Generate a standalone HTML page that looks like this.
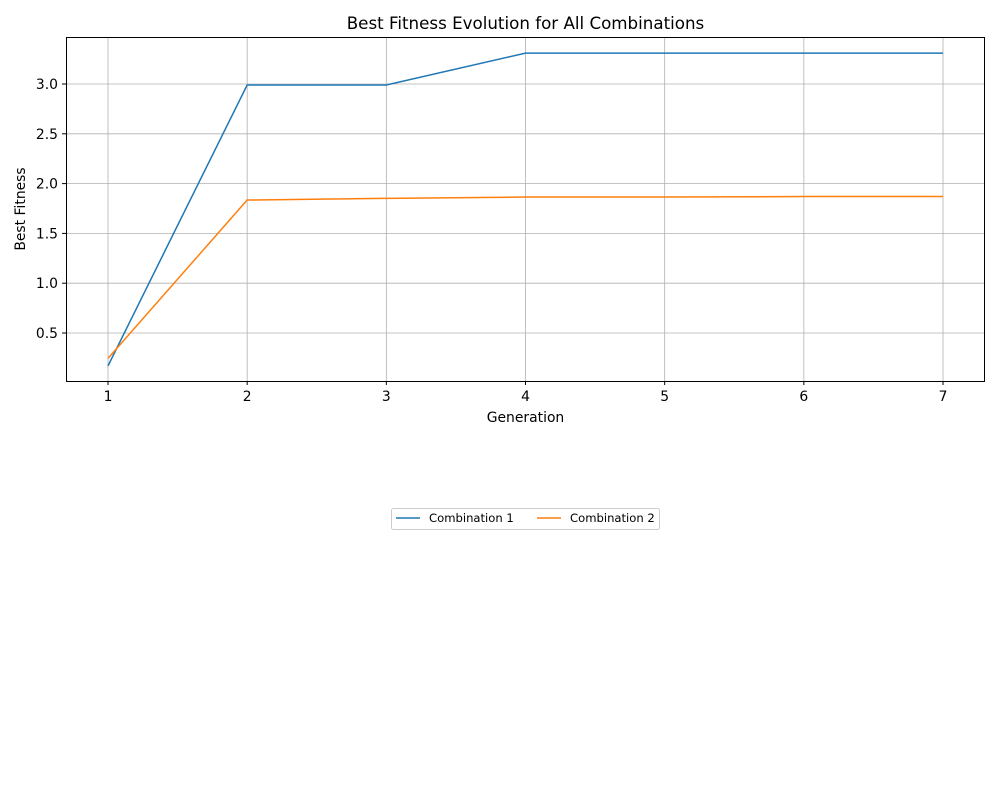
<!DOCTYPE html>
<html><head><meta charset="utf-8"><style>
body{margin:0;background:#fff;}
svg{display:block;font-family:"DejaVu Sans","Liberation Sans",sans-serif;}
</style></head><body>
<svg id="chart" width="1000" height="800">
<rect width="1000" height="800" fill="#fff"/>
<text x="525.5" y="29" font-size="16.7" text-anchor="middle">Best Fitness Evolution for All Combinations</text>
<g id="grid"></g>
<g id="series"></g>
<rect x="66.5" y="37.5" width="918" height="344" fill="none" stroke="#000" stroke-width="1"/>
<g id="ticks"></g>
<text x="525.5" y="422" font-size="13.9" text-anchor="middle">Generation</text>
<text transform="translate(25,209) rotate(-90)" font-size="13.9" text-anchor="middle">Best Fitness</text>
<g>
<rect x="391.5" y="508.5" width="268" height="21" rx="2" fill="#fff" stroke="#ccc"/>
<line x1="396" y1="518" x2="420" y2="518" stroke="#1f77b4" stroke-width="1.5"/>
<text x="429" y="522" font-size="11.6">Combination 1</text>
<line x1="537" y1="518" x2="561" y2="518" stroke="#ff7f0e" stroke-width="1.5"/>
<text x="570" y="522" font-size="11.6">Combination 2</text>
</g>
</svg>
<script>
const generations=[1,2,3,4,5,6,7];
const combo1=[0.17,2.99,2.99,3.31,3.31,3.31,3.31];
const combo2=[0.245,1.835,1.852,1.865,1.865,1.87,1.87];
const xTicks=[1,2,3,4,5,6,7];
const yTicks=[0.5,1.0,1.5,2.0,2.5,3.0];
const NS="http://www.w3.org/2000/svg";
function xs(v){return 108+(v-1)*139.17;}
function ys(v){return 84+(3-v)*99.6;}
function mk(tag,attrs,parent){const e=document.createElementNS(NS,tag);for(const k in attrs)e.setAttribute(k,attrs[k]);parent.appendChild(e);return e;}
const grid=document.getElementById('grid'),ticks=document.getElementById('ticks'),series=document.getElementById('series');
xTicks.forEach(t=>{const x=xs(t);
 const g=mk('line',{x1:x,y1:37,x2:x,y2:381,stroke:'#b0b0b0','stroke-width':0.8},grid);
 
 
 const tk=mk('line',{x1:x,y1:381,x2:x,y2:385,stroke:'#000'},ticks);
 
 
 const tx=mk('text',{x:x,y:401,'font-size':13.9,'text-anchor':'middle'},ticks);tx.textContent=t;
 
 
});
yTicks.forEach(t=>{const y=ys(t);
 const g=mk('line',{x1:66,y1:y,x2:985,y2:y,stroke:'#b0b0b0','stroke-width':0.8},grid);
 
 
 const tk=mk('line',{x1:62,y1:y,x2:66,y2:y,stroke:'#000'},ticks);
 
 
 const tx=mk('text',{x:58,y:y+5,'font-size':13.9,'text-anchor':'end'},ticks);tx.textContent=t.toFixed(1);
 
 
});
[[combo1,'#1f77b4','combination-1-line'],[combo2,'#ff7f0e','combination-2-line']].forEach(([d,c,n])=>{
 const p=mk('polyline',{points:d.map((v,i)=>xs(generations[i])+','+ys(v)).join(' '),fill:'none',stroke:c,'stroke-width':1.5},series);
 
 
});
</script>
</body></html>
